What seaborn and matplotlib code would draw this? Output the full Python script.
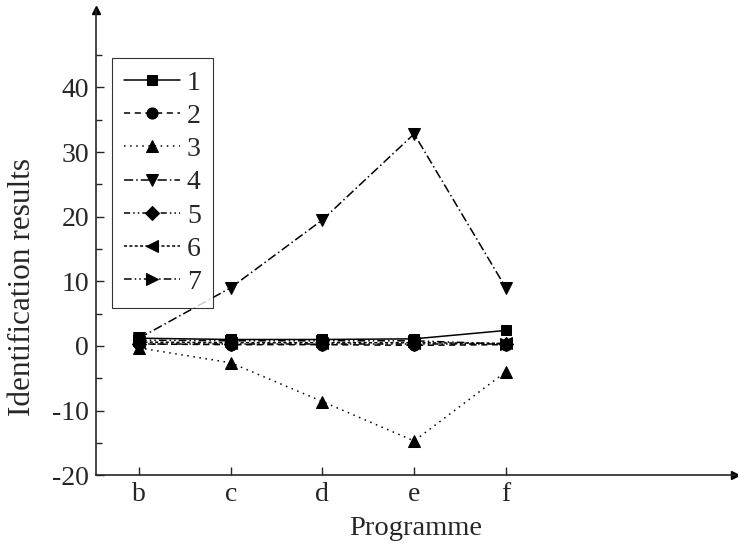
import numpy as np
import matplotlib.pyplot as plt
import pandas as pd
import seaborn as sns

# Data
programmes = ['b', 'c', 'd', 'e', 'f']
s1 = [1.2, 1.0, 1.0, 1.1, 2.4]
s2 = [0.3, 0.2, 0.2, 0.1, 0.2]
s3 = [-0.3, -2.6, -8.6, -14.7, -4.0]
s4 = [1.2, 9.0, 19.5, 32.8, 9.0]
s5 = [0.3, 0.3, 0.3, 0.3, 0.3]
s6 = [0.6, 0.5, 0.5, 0.5, 0.4]
s7 = [0.9, 0.8, 0.8, 0.8, 0.3]
series_names = ['1', '2', '3', '4', '5', '6', '7']
series_values = [s1, s2, s3, s4, s5, s6, s7]

markers = ['s', 'o', '^', 'v', 'D', '<', '>']
msizes = [7, 8, 9, 9, 7, 8.5, 8.5]
linestyles = ['-', (0, (4, 3)), (0, (1, 3)), (0, (6, 2, 1, 2)),
              (0, (4, 2, 1, 2, 1, 2)), (0, (2, 1.5)), (0, (5, 2, 1, 2, 1, 2))]

sns.set_style('ticks')
plt.rcParams['font.family'] = ['Liberation Serif', 'DejaVu Serif']
plt.rcParams['axes.unicode_minus'] = False

fig = plt.figure(figsize=(7.38, 5.45), dpi=100)
ax = fig.add_axes([0.130, 0.128, 0.866, 0.854])

x = np.arange(len(programmes))
for name, vals, m, ms, ls in zip(series_names, series_values, markers, msizes, linestyles):
    sns.lineplot(x=x, y=vals, ax=ax, color='black', marker=m, markersize=ms,
                 markeredgecolor='black', linestyle=ls, linewidth=1.1, label=name)

ax.set_xlim(-0.47, 6.5)
ax.set_ylim(-20, 52)
ax.set_xticks(x)
ax.set_xticklabels(programmes)
ax.set_yticks([-20, -10, 0, 10, 20, 30, 40])
ax.set_yticks(np.arange(-15, 50, 10), minor=True)
ax.tick_params(axis='both', direction='in', labelsize=20, width=1, length=6, pad=5)
ax.tick_params(axis='y', which='minor', direction='in', length=4, width=1)
ax.spines['top'].set_visible(False)
ax.spines['right'].set_visible(False)
ax.spines['left'].set_linewidth(1.2)
ax.spines['bottom'].set_linewidth(1.2)

# axis arrows
ax.plot(1, 0, '>k', markersize=6, transform=ax.transAxes, clip_on=False)
ax.plot(0, 1, '^k', markersize=6, transform=ax.transAxes, clip_on=False)

ax.set_xlabel('Programme', fontsize=20.5, labelpad=6)
ax.set_ylabel('Identification results', fontsize=22.5)
ax.yaxis.set_label_coords(-0.092, 0.404)

leg = ax.legend(loc='upper left', bbox_to_anchor=(0.025, 0.897), borderaxespad=0,
                fontsize=20, frameon=True, fancybox=False, edgecolor='black',
                handlelength=2.0, labelspacing=0.28, borderpad=0.45, handletextpad=0.25)
leg.get_frame().set_linewidth(0.8)

fig.savefig('out.png', dpi=100)
